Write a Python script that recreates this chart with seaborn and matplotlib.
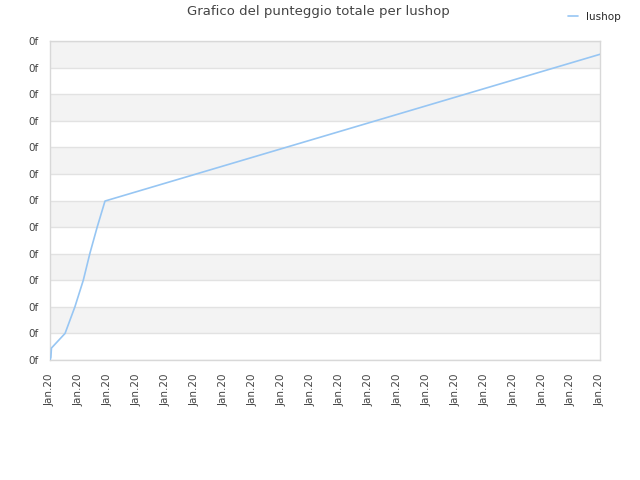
import numpy as np
import pandas as pd
import seaborn as sns
import matplotlib.pyplot as plt

# values (x in tick steps, y in grid steps)
day = [0.0, 0.03, 0.05, 0.52, 0.86, 1.15, 1.38, 1.63, 1.90, 19.0]
score = [0.0, 0.1, 0.45, 1.0, 2.0, 3.0, 4.02, 5.0, 5.98, 11.5]
x_tick_labels = ["Jan.20"] * 20
y_tick_labels = ["0f"] * 13
series_name = "lushop"

sns.set_theme(style="white")
plt.rcParams["font.family"] = ["DejaVu Sans"]

df = pd.DataFrame({"day": day, "score": score, "player": series_name})

fig = plt.figure(figsize=(6.4, 4.8), dpi=100)
ax = fig.add_axes([50 / 640, 120 / 480, 550 / 640, 319 / 480])

# alternating background bands
for i in range(len(y_tick_labels) - 1):
    if i % 2 == 1:
        ax.axhspan(i, i + 1, color="#f3f3f3", zorder=0, lw=0)

sns.lineplot(data=df, x="day", y="score", hue="player", palette=["#97c6f3"],
             linewidth=1.2, ax=ax, legend=False, zorder=3)

ax.set_xlim(0, len(x_tick_labels) - 1)
ax.set_ylim(0, len(y_tick_labels) - 1)
ax.set_xticks(range(len(x_tick_labels)))
ax.set_xticklabels(x_tick_labels, rotation=90, fontsize=7.5, color="#444444")
ax.set_yticks(range(len(y_tick_labels)))
ax.set_yticklabels(y_tick_labels, fontsize=7.5, color="#444444")
ax.tick_params(length=0, pad=8)
ax.tick_params(axis="x", pad=10)
ax.yaxis.grid(True, color="#e2e2e2", linewidth=1, zorder=1)
ax.set_axisbelow(True)
ax.set_xlabel("")
ax.set_ylabel("")
for s in ax.spines.values():
    s.set_color("#d8d8d8")
    s.set_linewidth(1)

fig.text(318 / 640, 1 - 12 / 480, "Grafico del punteggio totale per lushop",
         ha="center", va="center", fontsize=9.5, color="#444444")

handle = plt.Line2D([], [], color="#97c6f3", linewidth=1.2)
fig.legend([handle], [series_name], loc="upper right", bbox_to_anchor=(0.985, 0.995),
           frameon=False, fontsize=7.5, handlelength=1.0, handletextpad=0.8)

fig.savefig("out.png", dpi=100)
